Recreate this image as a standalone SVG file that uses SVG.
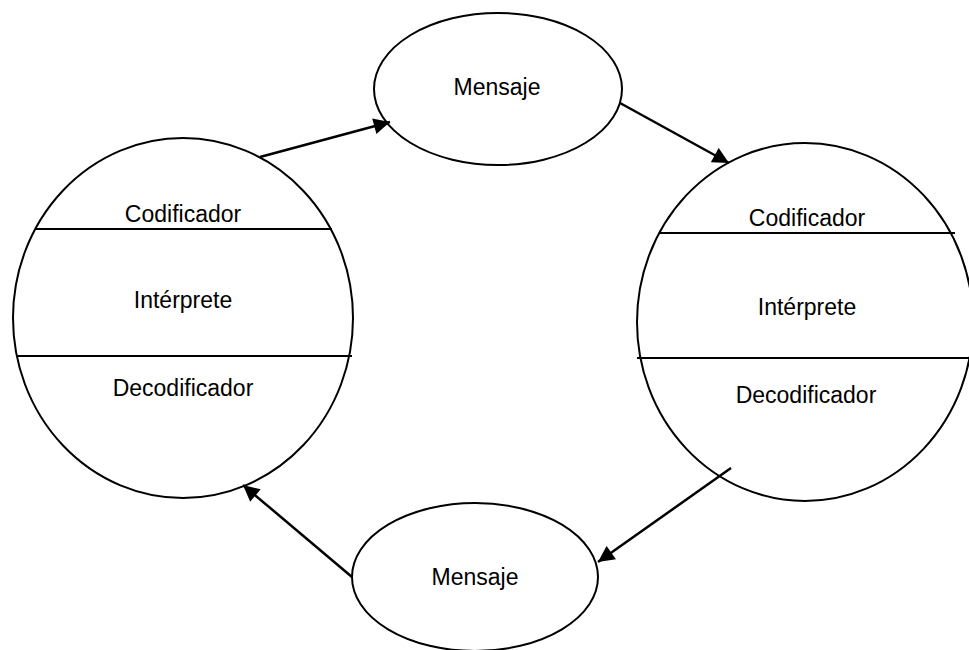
<svg xmlns="http://www.w3.org/2000/svg" width="969" height="650" viewBox="0 0 969 650">
<style>
.shape{fill:#fff;stroke:#000;stroke-width:2}
.div{stroke:#000;stroke-width:2}
.lbl{font-family:"Liberation Sans",Arial,sans-serif;font-size:23px;fill:#000;text-anchor:middle}
.conn{stroke:#000;stroke-width:2.5;fill:none;marker-end:url(#ah)}
</style>
<defs>
<marker id="ah" viewBox="0 0 10 10" refX="10" refY="5" markerWidth="8.5" markerHeight="6.5" markerUnits="strokeWidth" orient="auto">
<path d="M0,0 L10,5 L0,10 z" fill="#000"/>
</marker>
</defs>
<rect width="969" height="650" fill="#fff"/>
<g id="emisor">
<ellipse class="shape" cx="183" cy="318" rx="170" ry="180"/>
<line class="div" x1="36" y1="229" x2="332" y2="229"/>
<line class="div" x1="16" y1="356" x2="352" y2="356"/>
<text class="lbl" x="183" y="222">Codificador</text>
<text class="lbl" x="183" y="308">Intérprete</text>
<text class="lbl" x="183" y="396">Decodificador</text>
</g>
<g id="receptor">
<ellipse class="shape" cx="805" cy="322" rx="168" ry="179"/>
<line class="div" x1="659" y1="233" x2="955" y2="233"/>
<line class="div" x1="637" y1="358" x2="969" y2="358"/>
<text class="lbl" x="807" y="226">Codificador</text>
<text class="lbl" x="807" y="315">Intérprete</text>
<text class="lbl" x="806" y="403">Decodificador</text>
</g>
<g id="mensaje-sup">
<ellipse class="shape" cx="498" cy="89" rx="124" ry="76"/>
<text class="lbl" x="497" y="95">Mensaje</text>
</g>
<g id="mensaje-inf">
<ellipse class="shape" cx="475" cy="577" rx="123" ry="74"/>
<text class="lbl" x="475" y="585">Mensaje</text>
</g>
<g id="connectors">
<line class="conn" x1="260" y1="157" x2="390" y2="122"/>
<line class="conn" x1="620" y1="103" x2="729" y2="163"/>
<line class="conn" x1="731" y1="468" x2="598" y2="562"/>
<line class="conn" x1="352" y1="577" x2="243" y2="485"/>
</g>
</svg>
